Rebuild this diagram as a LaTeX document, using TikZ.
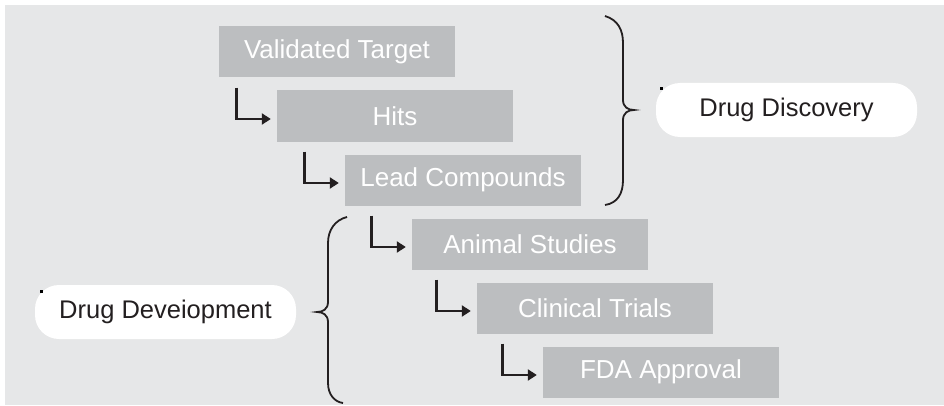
\documentclass[tikz,border=0pt]{standalone}
\usepackage{fontspec}
\setmainfont{Liberation Sans}
\usetikzlibrary{positioning, arrows.meta, calc}
\definecolor{bggray}{HTML}{E6E7E8}
\definecolor{boxgray}{HTML}{BCBEC0}
\definecolor{inkdark}{HTML}{231F20}

\begin{document}
\begin{tikzpicture}[x=1pt, y=1pt, node distance=64pt]
                \tikzstyle{stage} = [rectangle, fill=boxgray, text=white, minimum width=236pt, minimum height=51pt, inner sep=0pt, font=\fontsize{26}{31}\selectfont]
                \tikzstyle{phase} = [rectangle, rounded corners=24pt, fill=white, text=inkdark, minimum width=261pt, minimum height=54pt, inner sep=0pt, font=\fontsize{25.5}{30}\selectfont]
                \tikzstyle{arr} = [draw=inkdark, line width=2.8pt, -{Triangle[length=9pt, width=11pt]}]
                \tikzstyle{curly} = [draw=inkdark, line width=1.8pt]

                % background
                \useasboundingbox (0,0) rectangle (944,405);
                \fill[bggray] (5,0) rectangle (944,400);

                % Stage boxes (stepping down to the right)
                \node[stage] (t1) at (337,353) {Validated Target};
                \node[stage] (t2) [below of=t1, xshift=58pt] {Hits};
                \node[stage] (t3) [below of=t2, xshift=68pt] {Lead Compounds};
                \node[stage] (t4) [below of=t3, xshift=67pt] {Animal Studies};
                \node[stage] (t5) [below of=t4, xshift=65pt] {Clinical Trials};
                \node[stage] (t6) [below of=t5, xshift=66pt] {FDA Approval};

                % Phase labels (white, rounded)
                \node[phase] (disc) at (786.5,295) {Drug Discovery};
                \node[phase] (devel) at (165.5,93) {Drug Deveiopment};
                \fill[black] (659.5,314.5) rectangle (662.5,317.5);
                \fill[black] (39.5,112.5) rectangle (42.5,115.5);

                % L-shaped arrows
                \draw[arr] ($(t2.west |- t1.south)+(-40,-10)$) |- ($(t2.west)+(-6,-3)$);
                \draw[arr] ($(t3.west |- t2.south)+(-40,-10)$) |- ($(t3.west)+(-6,-3)$);
                \draw[arr] ($(t4.west |- t3.south)+(-40,-10)$) |- ($(t4.west)+(-6,-3)$);
                \draw[arr] ($(t5.west |- t4.south)+(-40,-10)$) |- ($(t5.west)+(-6,-3)$);
                \draw[arr] ($(t6.west |- t5.south)+(-40,-10)$) |- ($(t6.west)+(-6,-3)$);

                % Braces
                \draw[curly] (605,389) .. controls (618,385) and (623,375) .. (623,362)
                    -- (623,305) .. controls (623,298) and (628,295) .. (634,295)
                    .. controls (628,295) and (623,292) .. (623,285)
                    -- (623,225) .. controls (623,212) and (618,202) .. (605,200);
                \draw[curly] (347,188) .. controls (335,185) and (328,175) .. (328,162)
                    -- (328,103) .. controls (328,96) and (323,93) .. (317,93)
                    .. controls (323,93) and (328,90) .. (328,83)
                    -- (328,22) .. controls (328,10) and (335,3) .. (343,2);
            \end{tikzpicture}
\end{document}
